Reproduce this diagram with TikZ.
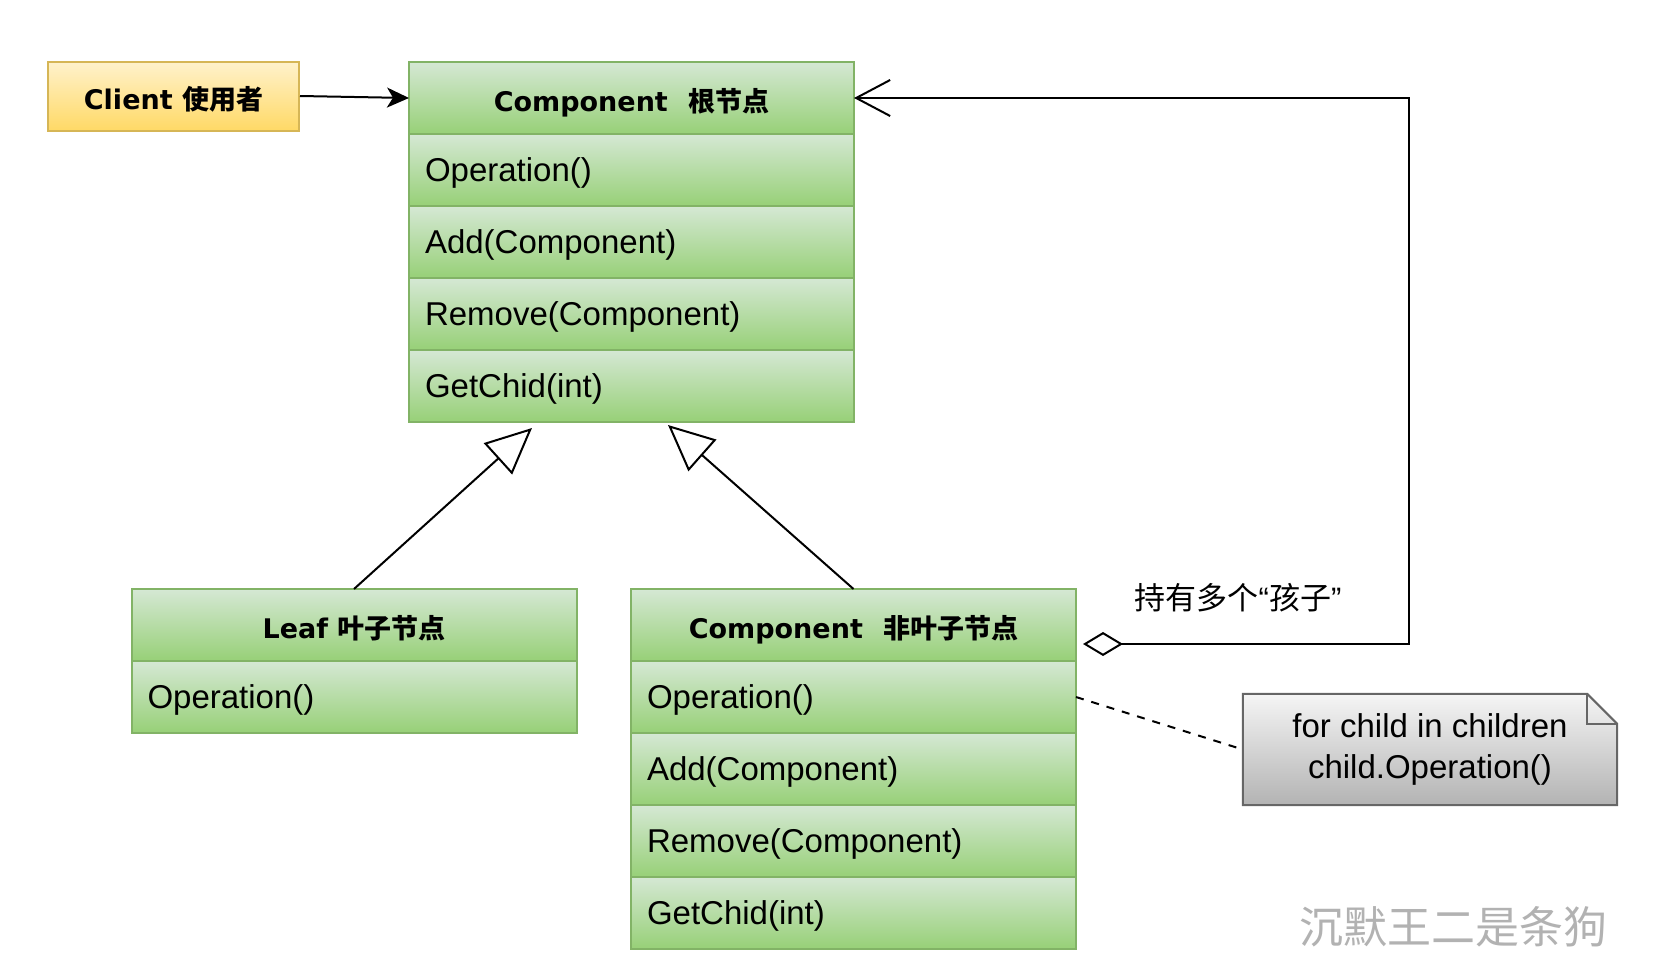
\documentclass[tikz,border=0pt]{standalone}
\usepackage{fontspec}
\setmainfont{Liberation Sans}
\newfontfamily\cjk{Noto Sans CJK SC}
\newfontfamily\hdfont{DejaVu Sans}
\usepackage{tikz}
\usetikzlibrary{positioning, calc, arrows.meta, backgrounds}
\usepackage{xcolor}
\definecolor{grTop}{HTML}{D5E8D4}
\definecolor{grBot}{HTML}{97D077}
\definecolor{grLine}{HTML}{82B366}
\definecolor{ylTop}{HTML}{FFF2CC}
\definecolor{ylBot}{HTML}{FFD966}
\definecolor{ylLine}{HTML}{D6B656}
\definecolor{ntTop}{HTML}{F5F5F5}
\definecolor{ntBot}{HTML}{B3B3B3}
\definecolor{ntLine}{HTML}{666666}

\begin{document}
\begin{tikzpicture}[x=1pt, y=-1pt,
    cell/.style={draw=grLine, line width=2pt, top color=grTop, bottom color=grBot, inner sep=0pt, outer sep=0pt},
    hd/.style={cell, minimum width=445pt, minimum height=72pt, text height=32pt, text depth=6pt,
               font=\hdfont\bfseries\fontsize{27pt}{32pt}\selectfont},
    op/.style={cell, text width=413pt, inner xsep=16pt, minimum height=72pt, align=left,
               text height=30pt, text depth=7pt, font=\fontsize{33pt}{40pt}\selectfont},
    inh/.style={line width=2pt, -{Triangle[open, length=46pt, width=42pt]}}]
        \useasboundingbox (0,0) rectangle (1667,969);
        % client
        \node[draw=ylLine, line width=2pt, top color=ylTop, bottom color=ylBot, minimum width=251pt, minimum height=69pt,
              inner sep=0pt, text height=32pt, text depth=6pt,
              font=\hdfont\bfseries\fontsize{27pt}{32pt}\selectfont] (client) at (173.5,96) {Client {\cjk 使用者}};
        % root component
        \node[hd] (rootH) at (631.5,98) {Component\hspace{0.75em}{\cjk 根节点}};
        \node[op, below=0pt of rootH] (rootA) {Operation()};
        \node[op, below=0pt of rootA] (rootB) {Add(Component)};
        \node[op, below=0pt of rootB] (rootC) {Remove(Component)};
        \node[op, below=0pt of rootC] (rootD) {GetChid(int)};
        % leaf
        \node[hd] (leafH) at (354,625) {Leaf {\cjk 叶子节点}};
        \node[op, below=0pt of leafH] (leafA) {Operation()};
        % composite
        \node[hd] (compH) at (853.5,625) {Component\hspace{0.75em}{\cjk 非叶子节点}};
        \node[op, below=0pt of compH] (compA) {Operation()};
        \node[op, below=0pt of compA] (compB) {Add(Component)};
        \node[op, below=0pt of compB] (compC) {Remove(Component)};
        \node[op, below=0pt of compC] (compD) {GetChid(int)};

        \draw[line width=2pt, -{Stealth[length=22pt, width=20pt, inset=6pt]}] (client.east) -- (rootH.west);

        \coordinate (tipL) at ($(rootD.south west)+(123,6)$);
        \coordinate (tipC) at ($(rootD.south west)+(259,3)$);
        \draw[inh] (leafH.north) -- (tipL);
        \draw[inh] (compH.north) -- (tipC);

        % children
        \coordinate (aggS) at ($(compH.east)+(7,19)$);
        \draw[line width=2pt, {Diamond[open, length=40pt, width=24pt]}-{Straight Barb[length=34pt, width=36pt]}]
            (aggS) -- ++(326,0) |- (rootH.east);
        \node[font=\fontsize{31pt}{36pt}\selectfont] (kids) at (1238,598) {{\cjk 持有多个}“{\cjk 孩子}”};

        % note
        \node[align=center, minimum width=374pt, minimum height=111pt, inner sep=0pt,
              font=\fontsize{33pt}{41pt}\selectfont] (note) at (1430,749.5) {for child in children\\child.Operation()};
        \begin{scope}[on background layer]
            \shade[top color=ntTop, bottom color=ntBot] (note.north west) -- ([xshift=-30pt]note.north east)
                -- ([yshift=-30pt]note.north east) -- (note.south east) -- (note.south west) -- cycle;
        \end{scope}
        \draw[ntLine, line width=2pt] (note.north west) -- ([xshift=-30pt]note.north east)
            -- ([yshift=-30pt]note.north east) -- (note.south east) -- (note.south west) -- cycle;
        \draw[ntLine, line width=2pt] ([xshift=-30pt]note.north east) |- ([yshift=-30pt]note.north east);
        \draw[line width=2pt, dash pattern=on 8pt off 8pt] (compA.east) -- (note.west);

        \node[font=\cjk\fontsize{44pt}{48pt}\selectfont, text=black!30] (mark) at (1453,927) {沉默王二是条狗};
\end{tikzpicture}
\end{document}
